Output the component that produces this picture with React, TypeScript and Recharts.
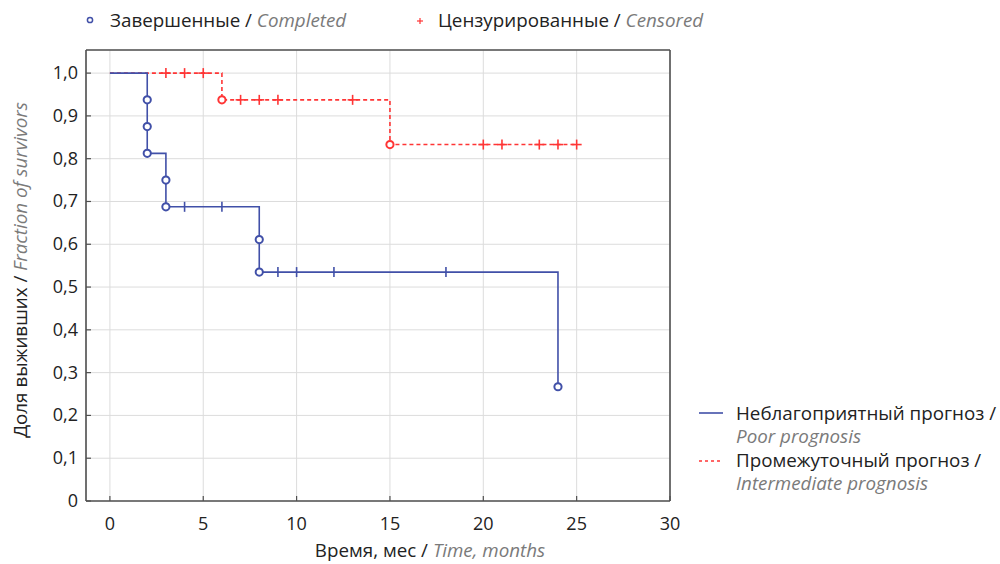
import {
  CartesianGrid,
  ComposedChart,
  Line,
  Scatter,
  XAxis,
  YAxis,
} from "recharts";

// Kaplan–Meier
const poorCurve = [
  { t: 0, s: 1 },
  { t: 2, s: 0.8125 },
  { t: 3, s: 0.6875 },
  { t: 8, s: 0.535 },
  { t: 24, s: 0.267 },
];
const poorEvents = [
  { t: 2, s: 0.9375 },
  { t: 2, s: 0.875 },
  { t: 2, s: 0.8125 },
  { t: 3, s: 0.75 },
  { t: 3, s: 0.6875 },
  { t: 8, s: 0.611 },
  { t: 8, s: 0.535 },
  { t: 24, s: 0.267 },
];
const poorCensored = [
  { t: 4, s: 0.6875 },
  { t: 6, s: 0.6875 },
  { t: 9, s: 0.535 },
  { t: 10, s: 0.535 },
  { t: 12, s: 0.535 },
  { t: 18, s: 0.535 },
];

const midCurve = [
  { t: 0, s: 1 },
  { t: 6, s: 0.9375 },
  { t: 15, s: 0.833 },
  { t: 25, s: 0.833 },
];
const midEvents = [
  { t: 6, s: 0.9375 },
  { t: 15, s: 0.833 },
];
const midCensored = [
  { t: 3, s: 1 },
  { t: 4, s: 1 },
  { t: 5, s: 1 },
  { t: 7, s: 0.9375 },
  { t: 8, s: 0.9375 },
  { t: 9, s: 0.9375 },
  { t: 13, s: 0.9375 },
  { t: 20, s: 0.833 },
  { t: 21, s: 0.833 },
  { t: 23, s: 0.833 },
  { t: 24, s: 0.833 },
  { t: 25, s: 0.833 },
];

const xTicks = [0, 5, 10, 15, 20, 25, 30];
const yTicks = [0, 0.1, 0.2, 0.3, 0.4, 0.5, 0.6, 0.7, 0.8, 0.9, 1.0];

const BLUE = "#4150a8";
const RED = "#ff3535";
const FRAME = "#505050";
const FONT = "'Open Sans', 'Noto Sans', sans-serif";
const GRAY = "#7a7a7a";

const fmtY = (v: number) => (v === 0 ? "0" : v.toFixed(1).replace(".", ","));

function LeftTick(props: any) {
  const { x, y, payload } = props;
  return (
    <g>
      <line x1={x + 8} x2={x + 13} y1={y} y2={y} stroke={FRAME} strokeWidth={1.2} />
      <text x={x} y={y} dy={6} textAnchor="end" fontSize={18} fill="#222" fontFamily={FONT}>
        {fmtY(payload.value)}
      </text>
    </g>
  );
}

function RightTick(props: any) {
  const { x, y } = props;
  return <line x1={x} x2={x - 5} y1={y} y2={y} stroke={FRAME} strokeWidth={1.2} />;
}

function BottomTick(props: any) {
  const { x, y, payload } = props;
  return (
    <g>
      <line x1={x} x2={x} y1={y - 16} y2={y - 21} stroke={FRAME} strokeWidth={1.2} />
      <text x={x} y={y} dy={13} textAnchor="middle" fontSize={18} fill="#222" fontFamily={FONT}>
        {payload.value}
      </text>
    </g>
  );
}

function TopTick(props: any) {
  const { x, y } = props;
  return <line x1={x} x2={x} y1={y} y2={y + 5} stroke={FRAME} strokeWidth={1.2} />;
}

const circleShape = (color: string) => (p: any) =>
  <circle cx={p.cx} cy={p.cy} r={3.6} fill="#fff" stroke={color} strokeWidth={2} />;

const barShape = (p: any) =>
  <line x1={p.cx} x2={p.cx} y1={p.cy - 5} y2={p.cy + 5} stroke={BLUE} strokeWidth={1.6} />;

const plusShape = (p: any) => (
  <g stroke={RED} strokeWidth={1.6}>
    <line x1={p.cx - 5} x2={p.cx + 5} y1={p.cy} y2={p.cy} />
    <line x1={p.cx} x2={p.cx} y1={p.cy - 5} y2={p.cy + 5} />
  </g>
);

export default function App() {
  return (
    <div style={{ position: "absolute", left: 0, top: 0, width: 1000, height: 564, background: "#fff" }}>
      <ComposedChart
        width={1000}
        height={564}
        margin={{ top: 30, right: 310, left: 26, bottom: 33 }}
      >
        <CartesianGrid stroke="#dcdcdc" strokeWidth={1} />
        <XAxis
          type="number"
          dataKey="t"
          domain={[-1.28, 30]}
          ticks={xTicks}
          height={30}
          tickSize={0}
          tickMargin={16}
          tick={<BottomTick />}
          axisLine={{ stroke: FRAME, strokeWidth: 1.6 }}
        />
        <XAxis
          xAxisId="top"
          orientation="top"
          type="number"
          domain={[-1.28, 30]}
          ticks={xTicks}
          height={20}
          tickSize={0}
          tickMargin={0}
          tick={<TopTick />}
          axisLine={{ stroke: FRAME, strokeWidth: 1.6 }}
        />
        <YAxis
          type="number"
          domain={[0, 1.054]}
          ticks={yTicks}
          width={60}
          tickSize={0}
          tickMargin={8}
          tick={<LeftTick />}
          axisLine={{ stroke: FRAME, strokeWidth: 1.6 }}
        />
        <YAxis
          yAxisId="right"
          orientation="right"
          type="number"
          domain={[0, 1.054]}
          ticks={yTicks}
          width={20}
          tickSize={0}
          tickMargin={0}
          tick={<RightTick />}
          axisLine={{ stroke: FRAME, strokeWidth: 1.6 }}
        />
        <Line
          data={midCurve}
          dataKey="s"
          type="stepAfter"
          stroke={RED}
          strokeWidth={1.6}
          strokeDasharray="4 3"
          dot={false}
          isAnimationActive={false}
        />
        <Line
          data={poorCurve}
          dataKey="s"
          type="stepAfter"
          stroke={BLUE}
          strokeWidth={1.6}
          dot={false}
          isAnimationActive={false}
        />
        <Scatter data={midCensored} dataKey="s" shape={plusShape} isAnimationActive={false} />
        <Scatter data={midEvents} dataKey="s" shape={circleShape(RED)} isAnimationActive={false} />
        <Scatter data={poorCensored} dataKey="s" shape={barShape} isAnimationActive={false} />
        <Scatter data={poorEvents} dataKey="s" shape={circleShape(BLUE)} isAnimationActive={false} />
      </ComposedChart>

      <svg
        width={1000}
        height={564}
        style={{ position: "absolute", left: 0, top: 0, pointerEvents: "none" }}
        fontFamily={FONT}
        fontSize={18.8}
      >
        {/* top legend */}
        <circle cx={90} cy={20} r={2.6} fill="#fff" stroke={BLUE} strokeWidth={1.5} />
        <text x={110} y={27} fill="#222">
          Завершенные / <tspan fill={GRAY} fontStyle="italic">Completed</tspan>
        </text>
        <g stroke={RED} strokeWidth={1.2}>
          <line x1={417} x2={423} y1={21} y2={21} />
          <line x1={420} x2={420} y1={18} y2={24} />
        </g>
        <text x={438} y={27} fill="#222">
          Цензурированные / <tspan fill={GRAY} fontStyle="italic">Censored</tspan>
        </text>

        {/* right legend */}
        <line x1={699} x2={723} y1={413} y2={413} stroke={BLUE} strokeWidth={1.6} />
        <text x={736} y={420} fill="#222">Неблагоприятный прогноз /</text>
        <text x={736} y={443} fill={GRAY} fontStyle="italic">Poor prognosis</text>
        <line x1={699} x2={723} y1={461} y2={461} stroke={RED} strokeWidth={1.6} strokeDasharray="3 3" />
        <text x={736} y={467} fill="#222">Промежуточный прогноз /</text>
        <text x={736} y={490} fill={GRAY} fontStyle="italic">Intermediate prognosis</text>

        {/* axis titles */}
        <text x={430} y={557} textAnchor="middle" fill="#222">
          Время, мес / <tspan fill={GRAY} fontStyle="italic">Time, months</tspan>
        </text>
        <text x={27} y={270} textAnchor="middle" fill="#222" transform="rotate(-90 27 270)">
          Доля выживших / <tspan fill={GRAY} fontStyle="italic">Fraction of survivors</tspan>
        </text>
      </svg>
    </div>
  );
}
